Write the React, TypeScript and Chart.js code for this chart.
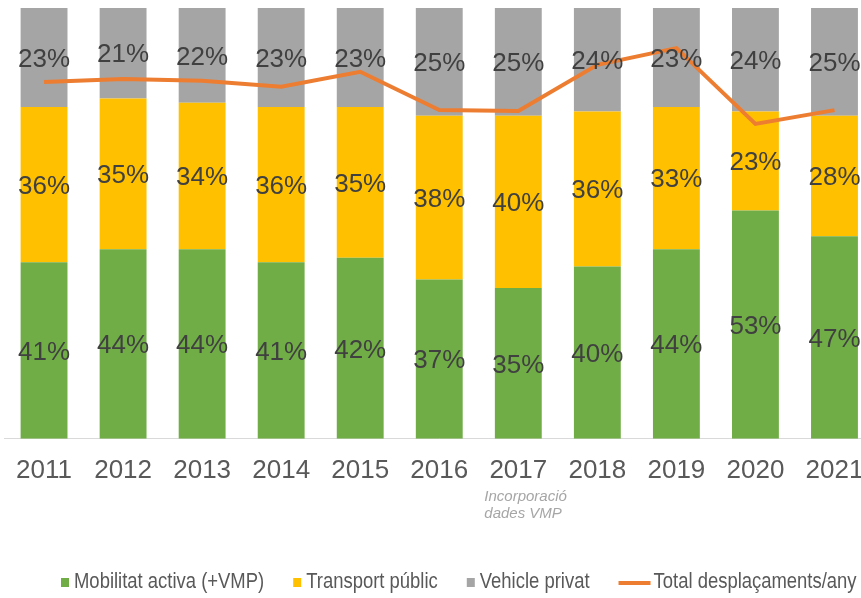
import React, { useEffect, useRef } from "react";
import { Chart, registerables } from "chart.js";

Chart.register(...registerables);

const years = ["2011", "2012", "2013", "2014", "2015", "2016", "2017", "2018", "2019", "2020", "2021"];
const activeMobility = [41, 44, 44, 41, 42, 37, 35, 40, 44, 53, 47];
const publicTransport = [36, 35, 34, 36, 35, 38, 40, 36, 33, 23, 28];
const privateVehicle = [23, 21, 22, 23, 23, 25, 25, 24, 23, 24, 25];
// total trips per year, as an index on a hidden secondary axis
const totalTrips = [82.8, 83.5, 83.1, 81.7, 85.2, 76.3, 76.1, 86.8, 90.7, 73.1, 76.3];

const seriesNames = ["Mobilitat activa (+VMP)", "Transport públic", "Vehicle privat", "Total desplaçaments/any"];
const noteLines = ["Incorporació", "dades VMP"];
const noteIndex = 6;

const GREEN = "#70AD47";
const YELLOW = "#FFC000";
const GRAY = "#A5A5A5";
const ORANGE = "#ED7D31";
const FONT = '"Liberation Sans", Arial, sans-serif';

const barLabels = {
  id: "barLabels",
  afterDatasetsDraw(chart: any) {
    const ctx = chart.ctx;
    ctx.save();
    ctx.font = `26px ${FONT}`;
    ctx.fillStyle = "#404040";
    ctx.textAlign = "center";
    ctx.textBaseline = "middle";
    chart.data.datasets.forEach((ds: any, di: number) => {
      if (ds.type !== "bar") return;
      const meta = chart.getDatasetMeta(di);
      meta.data.forEach((el: any, i: number) => {
        const p = el.getProps(["x", "y", "base"], true);
        ctx.fillText(`${ds.data[i]}%`, p.x, (p.y + p.base) / 2 + 2);
      });
    });
    ctx.restore();
  },
};

const extras = {
  id: "extras",
  afterDraw(chart: any) {
    const ctx = chart.ctx;
    const xs = chart.scales.x;
    ctx.save();
    // note under 2017
    ctx.font = `italic 15px ${FONT}`;
    ctx.fillStyle = "#A6A6A6";
    ctx.textAlign = "left";
    ctx.textBaseline = "middle";
    const nx = xs.getPixelForValue(noteIndex) - 34;
    noteLines.forEach((t, i) => ctx.fillText(t, nx, 497 + i * 17));

    // legend
    const sx = 0.82;
    ctx.font = `22.5px ${FONT}`;
    ctx.textBaseline = "middle";
    const cy = 582;
    let x = 61;
    chart.data.datasets.forEach((ds: any) => {
      const label = ds.label;
      if (ds.type === "line") {
        ctx.strokeStyle = ds.borderColor;
        ctx.lineWidth = 4;
        ctx.beginPath();
        ctx.moveTo(x, cy + 1);
        ctx.lineTo(x + 32, cy + 1);
        ctx.stroke();
        x += 35;
      } else {
        ctx.fillStyle = ds.backgroundColor;
        ctx.fillRect(x, cy - 4, 8, 9);
        x += 13;
      }
      const w = ctx.measureText(label).width * sx;
      ctx.save();
      ctx.translate(x, cy);
      ctx.scale(sx, 1);
      ctx.fillStyle = "#595959";
      ctx.fillText(label, 0, 0);
      ctx.restore();
      x += w + 29;
    });
    ctx.restore();
  },
};

export default function App() {
  const ref = useRef<HTMLCanvasElement>(null);
  useEffect(() => {
    document.body.style.margin = "0";
    const chart = new Chart(ref.current as HTMLCanvasElement, {
      type: "bar",
      data: {
        labels: years,
        datasets: [
          {
            type: "bar",
            label: seriesNames[0],
            data: activeMobility,
            backgroundColor: GREEN,
            stack: "s",
            yAxisID: "y",
            order: 2,
          },
          {
            type: "bar",
            label: seriesNames[1],
            data: publicTransport,
            backgroundColor: YELLOW,
            stack: "s",
            yAxisID: "y",
            order: 2,
          },
          {
            type: "bar",
            label: seriesNames[2],
            data: privateVehicle,
            backgroundColor: GRAY,
            stack: "s",
            yAxisID: "y",
            order: 2,
          },
          {
            type: "line",
            label: seriesNames[3],
            data: totalTrips,
            borderColor: ORANGE,
            backgroundColor: ORANGE,
            borderWidth: 4,
            pointRadius: 0,
            tension: 0,
            yAxisID: "y2",
            order: 1,
          } as any,
        ],
      },
      options: {
        animation: false,
        responsive: false,
        layout: { padding: { left: 2, right: 6, top: 8, bottom: 96 } },
        datasets: { bar: { categoryPercentage: 1, barPercentage: 0.593 } } as any,
        plugins: { legend: { display: false }, tooltip: { enabled: false } },
        scales: {
          x: {
            stacked: true,
            offset: true,
            grid: { display: false, drawTicks: false },
            border: { display: true, color: "#D9D9D9", width: 1 },
            ticks: { color: "#595959", font: { size: 26, family: FONT }, padding: 16, maxRotation: 0 },
          },
          y: { stacked: true, min: 0, max: 100, display: false },
          y2: { min: 0, max: 100, display: false },
        },
      },
      plugins: [barLabels, extras],
    });
    return () => chart.destroy();
  }, []);
  return (
    <div style={{ position: "fixed", left: 0, top: 0, width: 861, height: 598, overflow: "hidden", background: "#fff" }}>
      <canvas ref={ref} width={880} height={598} style={{ display: "block" }} />
    </div>
  );
}
